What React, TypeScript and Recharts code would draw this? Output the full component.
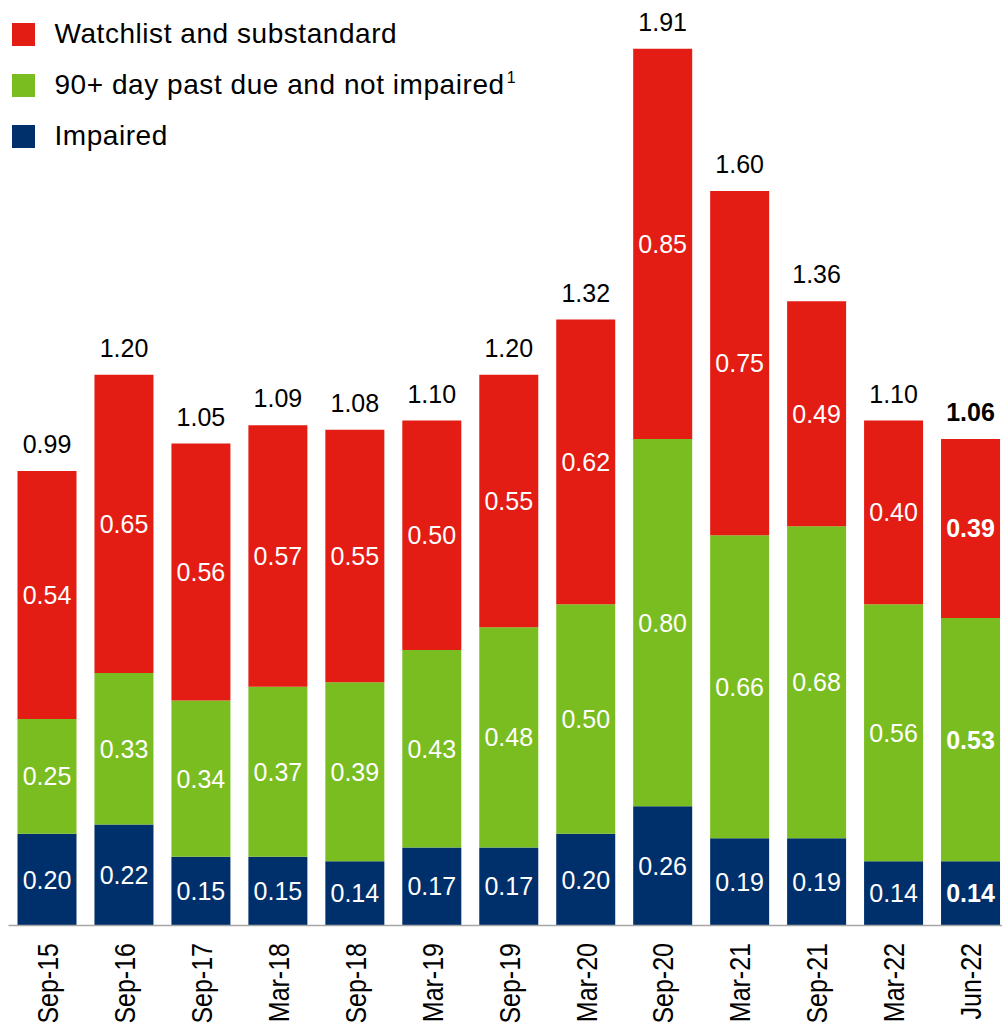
import React from "react";
import { BarChart, Bar, XAxis, YAxis, Legend, LabelList } from "recharts";

const categories = [
  "Sep-15", "Sep-16", "Sep-17", "Mar-18", "Sep-18", "Mar-19", "Sep-19",
  "Mar-20", "Sep-20", "Mar-21", "Sep-21", "Mar-22", "Jun-22",
];
const impaired = [0.2, 0.22, 0.15, 0.15, 0.14, 0.17, 0.17, 0.2, 0.26, 0.19, 0.19, 0.14, 0.14];
const pastDue = [0.25, 0.33, 0.34, 0.37, 0.39, 0.43, 0.48, 0.5, 0.8, 0.66, 0.68, 0.56, 0.53];
const watchlist = [0.54, 0.65, 0.56, 0.57, 0.55, 0.5, 0.55, 0.62, 0.85, 0.75, 0.49, 0.4, 0.39];
const totals = [0.99, 1.2, 1.05, 1.09, 1.08, 1.1, 1.2, 1.32, 1.91, 1.6, 1.36, 1.1, 1.06];

const FONT = "'Liberation Sans', Arial, sans-serif";
const RED = "#E31C14";
const GREEN = "#7ABD21";
const NAVY = "#00306B";
const LAST = categories.length - 1;

const data = categories.map((name, i) => ({
  name,
  impaired: impaired[i],
  pastDue: pastDue[i],
  watchlist: watchlist[i],
  total: totals[i],
}));

const legendItems = [
  { label: "Watchlist and substandard", color: RED, sup: "" },
  { label: "90+ day past due and not impaired", color: GREEN, sup: "1" },
  { label: "Impaired", color: NAVY, sup: "" },
];

const SegmentLabel = (props: any) => {
  const { x, y, width, height, value, index } = props;
  return (
    <text
      x={x + width / 2}
      y={y + height / 2 + 9}
      textAnchor="middle"
      fill="#fff"
      fontSize={25}
      fontWeight={index === LAST ? 700 : 400}
      fontFamily={FONT}
    >
      {Number(value).toFixed(2)}
    </text>
  );
};

const TotalLabel = (props: any) => {
  const { x, y, width, value, index } = props;
  return (
    <text
      x={x + width / 2}
      y={y - 18}
      textAnchor="middle"
      fill="#000"
      fontSize={25}
      fontWeight={index === LAST ? 700 : 400}
      fontFamily={FONT}
    >
      {Number(value).toFixed(2)}
    </text>
  );
};

const CategoryTick = (props: any) => {
  const { x, y, payload } = props;
  return (
    <g transform={`translate(${x},${y + 17.5}) rotate(-90) scale(1,1.2)`}>
      <text x={0} y={9} textAnchor="end" fill="#000" fontSize={25} fontFamily={FONT}>
        {payload.value}
      </text>
    </g>
  );
};

const LegendBox = () => (
  <div style={{ position: "relative", width: 600, height: 170, fontFamily: FONT }}>
    {legendItems.map((item, i) => (
      <div
        key={item.label}
        style={{
          position: "absolute",
          left: 12,
          top: 20 + i * 51,
          height: 28,
          display: "flex",
          alignItems: "center",
        }}
      >
        <div style={{ width: 23, height: 23, background: item.color }} />
        <span
          style={{
            marginLeft: 19.5,
            fontSize: 28,
            lineHeight: "28px",
            letterSpacing: 0.55,
            color: "#000",
            whiteSpace: "nowrap",
          }}
        >
          {item.label}
          {item.sup && (
            <span
              style={{
                fontSize: 16,
                lineHeight: 0,
                position: "relative",
                top: -11,
                marginLeft: 2,
              }}
            >
              {item.sup}
            </span>
          )}
        </span>
      </div>
    ))}
  </div>
);

export default function App() {
  return (
    <div
      style={{
        position: "fixed",
        left: 0,
        top: 0,
        width: 1002,
        height: 1027,
        overflow: "hidden",
        background: "#fff",
      }}
    >
      <BarChart
        width={1010}
        height={1027}
        data={data}
        margin={{ top: 7.5, right: 1, bottom: 1.5, left: 8.5 }}
        barSize={59}
      >
        <XAxis
          dataKey="name"
          height={100}
          interval={0}
          tickLine={false}
          tickSize={0}
          tickMargin={0}
          axisLine={{ stroke: "#A6A6A6", strokeWidth: 1.5 }}
          tick={<CategoryTick />}
        />
        <YAxis hide domain={[0, 2]} />
        <Legend
          layout="vertical"
          align="center"
          verticalAlign="middle"
          wrapperStyle={{ left: 0, top: 0, width: 600, height: 170 }}
          content={() => <LegendBox />}
        />
        <Bar dataKey="impaired" stackId="a" fill={NAVY} isAnimationActive={false}>
          <LabelList dataKey="impaired" content={<SegmentLabel />} />
        </Bar>
        <Bar dataKey="pastDue" stackId="a" fill={GREEN} isAnimationActive={false}>
          <LabelList dataKey="pastDue" content={<SegmentLabel />} />
        </Bar>
        <Bar dataKey="watchlist" stackId="a" fill={RED} isAnimationActive={false}>
          <LabelList dataKey="watchlist" content={<SegmentLabel />} />
          <LabelList dataKey="total" content={<TotalLabel />} />
        </Bar>
      </BarChart>
    </div>
  );
}
